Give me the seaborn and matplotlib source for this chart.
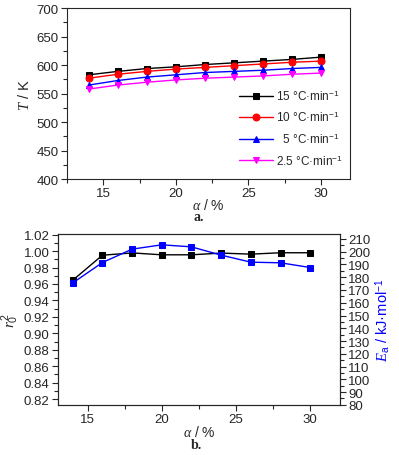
import matplotlib
matplotlib.use("Agg")
import matplotlib.pyplot as plt
from matplotlib.ticker import MultipleLocator
import numpy as np
import pandas as pd
import seaborn as sns

sns.set_style("ticks")
plt.rcParams['font.family'] = ['Liberation Sans', 'DejaVu Sans']
plt.rcParams['mathtext.fontset'] = 'custom'
plt.rcParams['mathtext.rm'] = 'Liberation Sans'
plt.rcParams['mathtext.it'] = 'Liberation Serif:italic'

# conversion degree (%)
alpha = [14, 16, 18, 20, 22, 24, 26, 28, 30]

# panel a: temperature at each heating rate
rates = ['15', '10', '5', '2.5']
T_15 = [583, 589, 594, 597, 601, 604, 607, 610, 614]
T_10 = [577, 584, 589, 593, 596, 599, 602, 605, 607]
T_5 = [565, 573, 579, 583, 587, 589, 591, 594, 596]
T_2_5 = [558, 565, 570, 574, 577, 579, 581, 584, 586]

# panel b: correlation coefficient and activation energy
r2 = [0.9645, 0.995, 0.9978, 0.9955, 0.9955, 0.9976, 0.9963, 0.998, 0.998]
Ea = [175.5, 191.5, 202.0, 205.4, 203.8, 197.3, 191.8, 191.3, 187.6]

colors = ['black', 'red', 'blue', 'magenta']
markers = ['s', 'o', '^', 'v']


def style_axis(ax):
    ax.tick_params(direction='out', which='both', labelsize=9.5, pad=2)
    ax.tick_params(which='major', length=4, width=0.8)
    ax.tick_params(which='minor', length=3, width=0.8)
    for s in ax.spines.values():
        s.set_linewidth(0.8)


fig = plt.figure(figsize=(3.99, 4.56), dpi=100)

# ---- panel a ----
ax1 = fig.add_axes([0.168, 0.605, 0.709, 0.375])
Ts = [T_15, T_10, T_5, T_2_5]
labels = [r + ' °C·min$^{-1}$' for r in rates]
labels[2] = '  ' + labels[2]
for T, c, m, lab in zip(Ts, colors, markers, labels):
    df = pd.DataFrame({'alpha': alpha, 'T': T})
    sns.lineplot(data=df, x='alpha', y='T', ax=ax1, color=c, marker=m,
                 markersize=5, markeredgecolor=c, linewidth=1.0, label=lab)
ax1.set_xlim(12.5, 32)
ax1.set_ylim(400, 700)
ax1.xaxis.set_major_locator(MultipleLocator(5))
ax1.xaxis.set_minor_locator(MultipleLocator(2.5))
ax1.yaxis.set_major_locator(MultipleLocator(50))
ax1.yaxis.set_minor_locator(MultipleLocator(25))
style_axis(ax1)
ax1.set_xlabel(r'$\it{\alpha}$ / %', fontsize=10, labelpad=-2)
ax1.set_ylabel(r'$\it{T}$ / K', fontsize=10.5, labelpad=3)
ax1.legend(loc='lower right', frameon=False, fontsize=8.5, handlelength=2.9,
           labelspacing=0.6, borderaxespad=0, handletextpad=0.2,
           bbox_to_anchor=(0.99, 0.04))
fig.text(0.497, 0.522, 'a.', fontsize=10, fontweight='bold',
         family='Liberation Serif', ha='center', va='center')

# ---- panel b ----
ax2 = fig.add_axes([0.145, 0.110, 0.707, 0.375])
df_b = pd.DataFrame({'alpha': alpha, 'r2': r2, 'Ea': Ea})
sns.lineplot(data=df_b, x='alpha', y='r2', ax=ax2, color='black', marker='s',
             markersize=5, markeredgecolor='black', linewidth=1.0)
ax2.set_xlim(13, 32)
ax2.set_ylim(0.813, 1.021)
ax2.xaxis.set_major_locator(MultipleLocator(5))
ax2.xaxis.set_minor_locator(MultipleLocator(2.5))
ax2.yaxis.set_major_locator(MultipleLocator(0.02))
ax2.yaxis.set_minor_locator(MultipleLocator(0.01))
ax2.yaxis.set_major_formatter(plt.FormatStrFormatter('%.2f'))
style_axis(ax2)
ax2.set_xlabel(r'$\it{\alpha}$ / %', fontsize=10, labelpad=-1)
ax2.set_ylabel(r'$r_0^{\,2}$', fontsize=11, labelpad=2)

ax3 = ax2.twinx()
sns.lineplot(data=df_b, x='alpha', y='Ea', ax=ax3, color='blue', marker='s',
             markersize=5, markeredgecolor='blue', linewidth=1.0)
ax3.set_ylim(80, 214)
ax3.yaxis.set_major_locator(MultipleLocator(10))
ax3.yaxis.set_minor_locator(MultipleLocator(5))
style_axis(ax3)
ax3.set_ylabel(r'$E_{\rm a}$ / kJ·mol$^{-1}$', fontsize=10.5, color='blue', labelpad=2)
ax3.set_xlabel('')
fig.text(0.492, 0.022, 'b.', fontsize=10, fontweight='bold',
         family='Liberation Serif', ha='center', va='center')

fig.savefig('out.png', dpi=100)
